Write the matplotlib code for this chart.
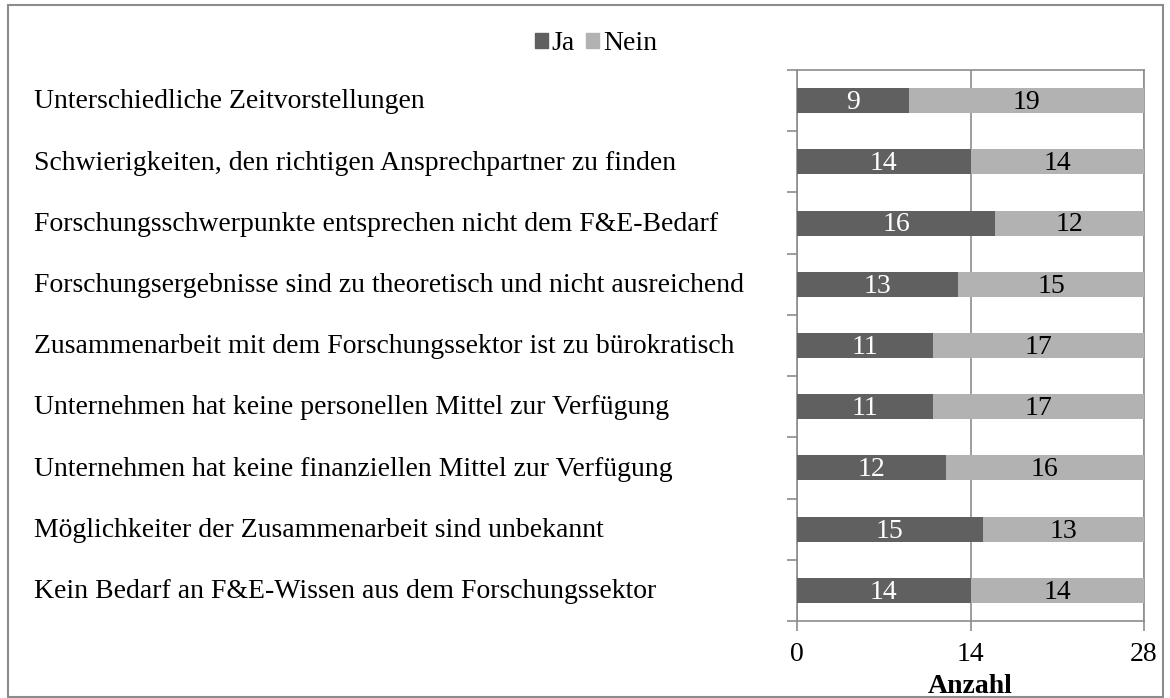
import matplotlib
matplotlib.use("Agg")
import matplotlib.pyplot as plt
import matplotlib.transforms as mtransforms
from matplotlib.patches import Rectangle
import numpy as np

plt.rcParams['font.family'] = ['Liberation Serif', 'DejaVu Serif']

categories = [
    "Unterschiedliche Zeitvorstellungen",
    "Schwierigkeiten, den richtigen Ansprechpartner zu finden",
    "Forschungsschwerpunkte entsprechen nicht dem F&E-Bedarf",
    "Forschungsergebnisse sind zu theoretisch und nicht ausreichend",
    "Zusammenarbeit mit dem Forschungssektor ist zu bürokratisch",
    "Unternehmen hat keine personellen Mittel zur Verfügung",
    "Unternehmen hat keine finanziellen Mittel zur Verfügung",
    "Möglichkeiter der Zusammenarbeit sind unbekannt",
    "Kein Bedarf an F&E-Wissen aus dem Forschungssektor",
]
ja = [9, 14, 16, 13, 11, 11, 12, 15, 14]
nein = [19, 14, 12, 15, 17, 17, 16, 13, 14]
xticks = [0, 14, 28]
series_names = ["Ja", "Nein"]

c_ja = "#606060"
c_nein = "#b2b2b2"
grid_c = "#8c8c8c"
FS = 20

W, H = 1170, 698
fig = plt.figure(figsize=(W / 100, H / 100), dpi=100)
ax = fig.add_axes([797 / W, 1 - 621 / H, (1144 - 797) / W, (621 - 70) / H])

n = len(categories)
y = np.arange(n)
bh = 0.41
ax.barh(y, ja, height=bh, color=c_ja, zorder=3)
ax.barh(y, nein, left=ja, height=bh, color=c_nein, zorder=3)

for i in range(n):
    ax.text(ja[i] / 2, y[i] + 0.03, str(ja[i]), ha='center', va='center', color='white',
            fontsize=FS, zorder=4)
    ax.text(ja[i] + nein[i] / 2, y[i] + 0.03, str(nein[i]), ha='center', va='center',
            color='black', fontsize=FS, zorder=4)

ax.set_xlim(0, 28)
ax.set_ylim(n - 0.5, -0.5)
ax.set_xticks(xticks)
ax.set_xticklabels([str(t) for t in xticks], fontsize=FS)
ax.xaxis.grid(True, color=grid_c, linewidth=1.2, zorder=1)
ax.tick_params(axis='x', length=7, color=grid_c, width=1.2, pad=8)

ax.set_yticks(np.arange(-0.5, n, 1.0))
ax.set_yticklabels([])
ax.tick_params(axis='y', length=7, color=grid_c, width=1.2)

for s in ax.spines.values():
    s.set_color(grid_c)
    s.set_linewidth(1.2)

ax.set_xlabel("Anzahl", fontsize=FS, fontweight='bold', labelpad=5)

trans = mtransforms.blended_transform_factory(fig.transFigure, ax.transData)
for i, c in enumerate(categories):
    ax.text(34 / W, y[i] + 0.02, c, transform=trans, ha='left', va='center', fontsize=FS,
            clip_on=False)

handles = [Rectangle((0, 0), 1, 1, color=c_ja), Rectangle((0, 0), 1, 1, color=c_nein)]
fig.legend(handles, series_names, loc='center', bbox_to_anchor=(596 / W, 1 - 44 / H),
           ncol=2, frameon=False, fontsize=FS, handlelength=0.45, handleheight=0.45,
           handletextpad=0.15, columnspacing=0.4)

border = Rectangle((8 / W, 1 / H), (W - 15) / W, (H - 6) / H, transform=fig.transFigure,
                   fill=False, edgecolor=grid_c, linewidth=1.5)
fig.patches.append(border)

fig.savefig("out.png", dpi=100)
